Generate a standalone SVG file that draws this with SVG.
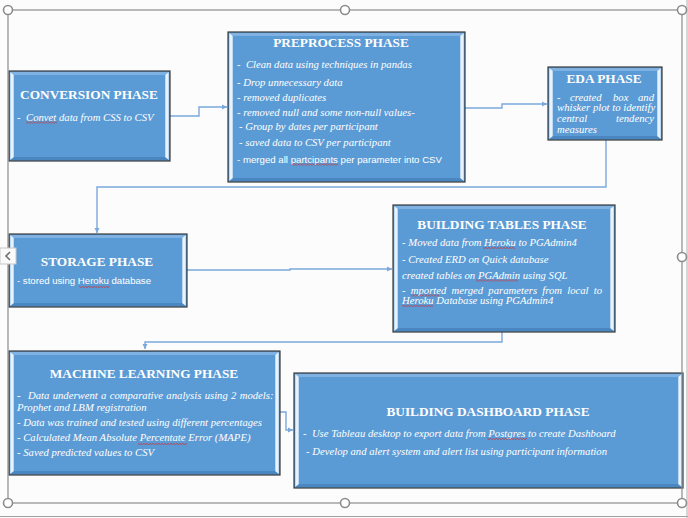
<svg xmlns="http://www.w3.org/2000/svg" width="688" height="518" viewBox="0 0 688 518">
<defs>
<style>
.box{fill:#5b9bd5;stroke:#3a3a3a;stroke-width:1.2}
.bt{fill:#7fb2e3}
.bb{fill:#4a86c0}
.bs{fill:url(#side)}
.t{font-family:"Liberation Serif",serif;font-weight:bold;font-size:13.3px;fill:#fff;text-anchor:middle}
.b{font-family:"Liberation Serif",serif;font-style:italic;font-size:10.7px;fill:#fff}
.s{font-family:"Liberation Sans",Arial,sans-serif;font-size:9.6px;fill:#fff}
.c{fill:none;stroke:#7aa8dc;stroke-width:1.4;marker-end:url(#ah)}
.fr{fill:none;stroke:#8c8c8c;stroke-width:1.2}
.h{fill:#fff;stroke:#8c8c8c;stroke-width:1.6}
.sq{fill:url(#wave)}
</style>
<linearGradient id="side" x1="0" y1="0" x2="1" y2="0">
<stop offset="0" stop-color="#a9cdf0"/>
<stop offset="0.5" stop-color="#ffffff"/>
<stop offset="1" stop-color="#a9cdf0"/>
</linearGradient>
<pattern id="wave" width="3" height="2" patternUnits="userSpaceOnUse">
<path d="M0,1.6 L1.5,0.4 L3,1.6" fill="none" stroke="#e02020" stroke-width="0.7"/>
</pattern>
<marker id="ah" markerUnits="userSpaceOnUse" markerWidth="6" markerHeight="6" refX="5" refY="3" orient="auto">
<path d="M0,0.5 L5,3 L0,5.5 z" fill="#7aa8dc"/>
</marker>
</defs>
<rect width="688" height="518" fill="#fdfcfd"/>
<line x1="0" y1="516.5" x2="688" y2="516.5" stroke="#a0a0a0" stroke-width="1"/>
<line x1="687" y1="0" x2="687" y2="518" stroke="#b0b0b0" stroke-width="1"/>

<g id="connectors">
<path class="c" d="M170,116 H199 V107 H227"/>
<path class="c" d="M465,108 H502 V104 H547"/>
<path class="c" d="M606,140 V187 H97 V233"/>
<path class="c" d="M187,270 H290 V269 H392"/>
<path class="c" d="M502,332 V342 H145 V349"/>
<path class="c" d="M280,412 H286 V430 H293"/>
</g>

<g id="conversion">
<rect class="box" x="9" y="71" width="161" height="90"/>
<polygon class="bt" points="10,72 169,72 165,75 14,75"/>
<polygon class="bb" points="10,160 169,160 165,157 14,157"/>
<polygon class="bs" points="10,72 14,75 14,157 10,160"/>
<polygon class="bs" points="169,72 165,75 165,157 169,160"/>
<text class="t" x="89" y="99">CONVERSION PHASE</text>
<text class="b" y="120.5"><tspan x="17">-</tspan><tspan x="26">Convet data from CSS to CSV</tspan></text>
<rect class="sq" x="26" y="121.5" width="31" height="2"/>
</g>

<g id="preprocess">
<rect class="box" x="228" y="32" width="237" height="150"/>
<polygon class="bt" points="229,33 464,33 460,36 233,36"/>
<polygon class="bb" points="229,181 464,181 460,178 233,178"/>
<polygon class="bs" points="229,33 233,36 233,178 229,181"/>
<polygon class="bs" points="464,33 460,36 460,178 464,181"/>
<text class="t" x="341" y="46.5">PREPROCESS PHASE</text>
<text class="b" x="237" y="67.8" xml:space="preserve">-  Clean data using techniques in pandas</text>
<text class="b" x="237" y="86.2">- Drop unnecessary data</text>
<text class="b" x="237" y="100.5">- removed duplicates</text>
<text class="b" x="237" y="116.2">- removed null and some non-null values-</text>
<text class="b" x="239" y="130.2">- Group by dates per participant</text>
<text class="b" x="239" y="146.2">- saved data to CSV per participant</text>
<text class="s" x="237" y="162.5" textLength="205" lengthAdjust="spacingAndGlyphs">- merged all partcipants per parameter into CSV</text>
<rect class="sq" x="291" y="163.5" width="47" height="2"/>
</g>

<g id="eda">
<rect class="box" x="548" y="67" width="114" height="73"/>
<polygon class="bt" points="549,68 661,68 657,71 553,71"/>
<polygon class="bb" points="549,139 661,139 657,136 553,136"/>
<polygon class="bs" points="549,68 553,71 553,136 549,139"/>
<polygon class="bs" points="661,68 657,71 657,136 661,139"/>
<text class="t" x="604" y="82.5">EDA PHASE</text>
<text class="b" y="100.5"><tspan x="557">-</tspan><tspan x="570">created</tspan><tspan x="613">box</tspan><tspan x="638">and</tspan></text>
<text class="b" x="557" y="111.3">whisker plot to identify</text>
<text class="b" y="122"><tspan x="557">central</tspan><tspan x="654" text-anchor="end">tendency</tspan></text>
<text class="b" x="557" y="132.6">measures</text>
</g>

<g id="storage">
<rect class="box" x="9" y="234" width="178" height="73"/>
<polygon class="bt" points="10,235 186,235 182,238 14,238"/>
<polygon class="bb" points="10,306 186,306 182,303 14,303"/>
<polygon class="bs" points="10,235 14,238 14,303 10,306"/>
<polygon class="bs" points="186,235 182,238 182,303 186,306"/>
<text class="t" x="97" y="265.5">STORAGE PHASE</text>
<text class="s" x="17" y="284.2" textLength="134" lengthAdjust="spacingAndGlyphs">- stored using Heroku database</text>
<rect class="sq" x="79" y="286" width="31" height="2"/>
</g>

<g id="building-tables">
<rect class="box" x="393" y="205" width="222" height="127"/>
<polygon class="bt" points="394,206 614,206 610,209 398,209"/>
<polygon class="bb" points="394,331 614,331 610,328 398,328"/>
<polygon class="bs" points="394,206 398,209 398,328 394,331"/>
<polygon class="bs" points="614,206 610,209 610,328 614,331"/>
<text class="t" x="502" y="228.5">BUILDING TABLES PHASE</text>
<text class="b" x="402" y="246.2">- Moved data from Heroku to PGAdmin4</text>
<text class="b" x="402" y="262.8">- Created ERD on Quick database</text>
<text class="b" x="402" y="278.5">created tables on PGAdmin using SQL</text>
<text class="b" x="402" y="293.5" word-spacing="2.5">- mported merged parameters from local to</text>
<text class="b" x="402" y="304">Heroku Database using PGAdmin4</text>
<rect class="sq" x="483" y="247" width="32" height="2"/>
<rect class="sq" x="476" y="279.5" width="42" height="2"/>
<rect class="sq" x="411" y="294.5" width="28" height="2"/>
<rect class="sq" x="402" y="305" width="31" height="2"/>
</g>

<g id="machine-learning">
<rect class="box" x="9" y="351" width="271" height="124"/>
<polygon class="bt" points="10,352 279,352 275,355 14,355"/>
<polygon class="bb" points="10,474 279,474 275,471 14,471"/>
<polygon class="bs" points="10,352 14,355 14,471 10,474"/>
<polygon class="bs" points="279,352 275,355 275,471 279,474"/>
<text class="t" x="144" y="377.8">MACHINE LEARNING PHASE</text>
<text class="b" y="398.5"><tspan x="17" font-style="normal" font-weight="bold">-</tspan><tspan x="28" word-spacing="0.6">Data underwent a comparative analysis using 2 models:</tspan></text>
<text class="b" x="17" y="411.2">Prophet and LBM registration</text>
<text class="b" x="17" y="425.8">- Data was trained and tested using different percentages</text>
<text class="b" x="17" y="441.2">- Calculated Mean Absolute Percentate Error (MAPE)</text>
<text class="b" x="17" y="455.8">- Saved predicted values to CSV</text>
<rect class="sq" x="138" y="443" width="49" height="2"/>
</g>

<g id="dashboard">
<rect class="box" x="294" y="373" width="389" height="115"/>
<polygon class="bt" points="295,374 682,374 678,377 299,377"/>
<polygon class="bb" points="295,487 682,487 678,484 299,484"/>
<polygon class="bs" points="295,374 299,377 299,484 295,487"/>
<polygon class="bs" points="682,374 678,377 678,484 682,487"/>
<text class="t" x="488" y="416.2">BUILDING DASHBOARD PHASE</text>
<text class="b" x="303" y="436.8" xml:space="preserve">-  Use Tableau desktop to export data from Postgres to create Dashboard</text>
<text class="b" x="306" y="455.2">- Develop and alert system and alert list using participant information</text>
<rect class="sq" x="487" y="438" width="40" height="2"/>
</g>

<g id="selection-frame">
<rect class="fr" x="8" y="10" width="674" height="493"/>
<circle class="h" cx="8" cy="10" r="4.5"/>
<circle class="h" cx="345" cy="10" r="4.5"/>
<circle class="h" cx="682" cy="10" r="4.5"/>
<circle class="h" cx="682" cy="257" r="4.5"/>
<circle class="h" cx="8" cy="503" r="4.5"/>
<circle class="h" cx="345" cy="503" r="4.5"/>
<circle class="h" cx="682" cy="503" r="4.5"/>
<rect x="0" y="248" width="16" height="16" fill="#fafafa" stroke="#c8c8c8" stroke-width="1"/>
<polyline points="10,252 6,256 10,260" fill="none" stroke="#707070" stroke-width="1.6"/>
</g>
</svg>
